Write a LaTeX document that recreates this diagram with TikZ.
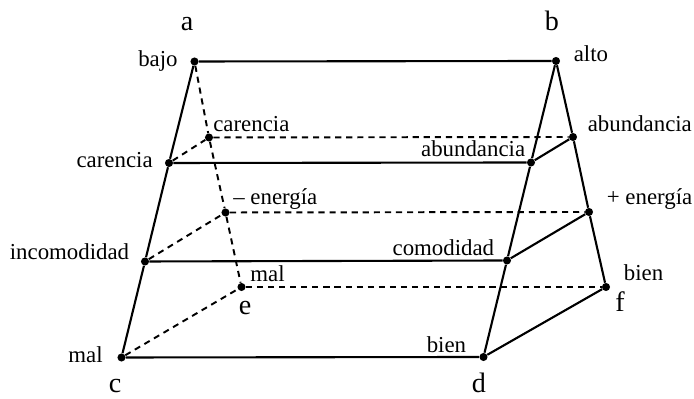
\documentclass[tikz,border=0pt]{standalone}
\usepackage{fontspec}
\setmainfont{Liberation Serif}
\usetikzlibrary{positioning}

\tikzset{
  pt/.style={circle,fill,inner sep=0pt,minimum size=4.6pt},
  lbl/.style={font=\fontsize{13}{15}\selectfont,inner sep=0pt},
  corner/.style={font=\fontsize{16}{18}\selectfont,inner sep=0pt,anchor=base},
  front/.style={line width=1.2pt},
  back/.style={line width=1.1pt,dash pattern=on 3.5pt off 2.8pt},
}

\begin{document}
\begin{tikzpicture}
  \useasboundingbox (0,0) rectangle (13.88,7.98);
  % front face
  \node[pt] (bajo) at (3.89,6.75) {};
  \node[pt] (alto) at (11.12,6.76) {};
  \node[pt] (carF) at (3.38,4.72) {};
  \node[pt] (abuF) at (10.62,4.73) {};
  \node[pt] (inc) at (2.90,2.75) {};
  \node[pt] (com) at (10.14,2.77) {};
  \node[pt] (malF) at (2.43,0.83) {};
  \node[pt] (bienF) at (9.67,0.84) {};
  % back face
  \node[pt] (carB) at (4.18,5.23) {};
  \node[pt] (abuB) at (11.46,5.24) {};
  \node[pt] (enM) at (4.51,3.73) {};
  \node[pt] (enP) at (11.78,3.74) {};
  \node[pt] (malB) at (4.83,2.24) {};
  \node[pt] (bienB) at (12.12,2.24) {};

  % solid edges
  \draw[front] (bajo) -- (alto);
  \draw[front] (carF) -- (abuF);
  \draw[front] (inc) -- (com);
  \draw[front] (malF) -- (bienF);
  \draw[front] (bajo) -- (carF) -- (inc) -- (malF);
  \draw[front] (alto) -- (abuF) -- (com) -- (bienF);
  \draw[front] (alto) -- (abuB) -- (enP) -- (bienB);
  \draw[front] (abuF) -- (abuB);
  \draw[front] (com) -- (enP);
  \draw[front] (bienF) -- (bienB);
  % dashed edges
  \draw[back] (bajo) -- (carB) -- (enM) -- (malB);
  \draw[back] (carB) -- (abuB);
  \draw[back] (enM) -- (enP);
  \draw[back] (malB) -- (bienB);
  \draw[back] (carF) -- (carB);
  \draw[back] (inc) -- (enM);
  \draw[back] (malF) -- (malB);

  % labels
  \node[lbl,anchor=base east] (tbajo) at ([shift={(-0.33,-0.10)}]bajo.center) {bajo};
  \node[lbl,anchor=base west] (talto) at ([shift={(0.35,-0.02)}]alto.center) {alto};
  \node[lbl,anchor=base west] (tcarB) at ([shift={(0.08,0.12)}]carB.center) {carencia};
  \node[lbl,anchor=base west] (tabuB) at ([shift={(0.29,0.10)}]abuB.center) {abundancia};
  \node[lbl,anchor=base east] (tcarF) at ([shift={(-0.32,-0.10)}]carF.center) {carencia};
  \node[lbl,anchor=base east] (tabuF) at ([shift={(-0.11,0.11)}]abuF.center) {abundancia};
  \node[lbl,anchor=base west] (tenM) at ([shift={(0.15,0.16)}]enM.center) {– energía};
  \node[lbl,anchor=base west] (tenP) at ([shift={(0.35,0.14)}]enP.center) {+ energía};
  \node[lbl,anchor=base east] (tinc) at ([shift={(-0.31,0.03)}]inc.center) {incomodidad};
  \node[lbl,anchor=base east] (tcom) at ([shift={(-0.25,0.10)}]com.center) {comodidad};
  \node[lbl,anchor=base west] (tmalB) at ([shift={(0.17,0.11)}]malB.center) {mal};
  \node[lbl,anchor=base west] (tbienB) at ([shift={(0.35,0.13)}]bienB.center) {bien};
  \node[lbl,anchor=base east] (tmalF) at ([shift={(-0.37,-0.10)}]malF.center) {mal};
  \node[lbl,anchor=base east] (tbienF) at ([shift={(-0.34,0.08)}]bienF.center) {bien};

  % corner letters
  \node[corner] (ca) at (3.74,7.37) {a};
  \node[corner] (cb) at (11.04,7.37) {b};
  \node[corner] (cc) at (2.30,0.12) {c};
  \node[corner] (cd) at (9.58,0.12) {d};
  \node[corner] (ce) at (4.90,1.68) {e};
  \node[corner] (cf) at (12.40,1.75) {f};
\end{tikzpicture}
\end{document}
